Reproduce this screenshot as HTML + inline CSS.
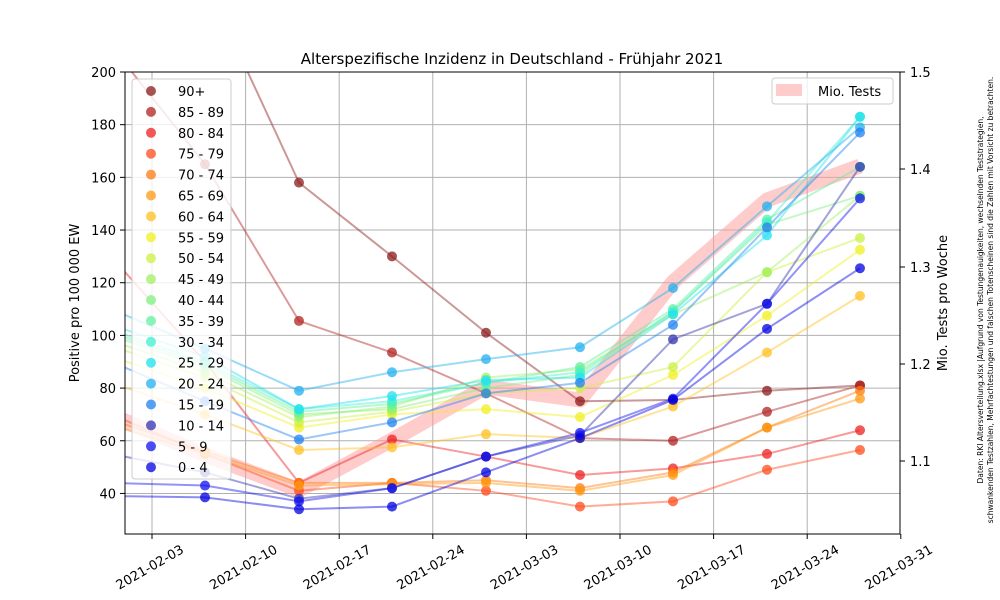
<!DOCTYPE html>
<html><head><meta charset="utf-8"><style>
html,body{margin:0;background:#fff;overflow:hidden;width:1000px;height:600px;}
svg{font-family:"DejaVu Sans","Liberation Sans",sans-serif;display:block;}
</style></head><body>
<svg id="s" width="1000" height="600" xmlns="http://www.w3.org/2000/svg">
<defs><clipPath id="c"><rect x="125" y="72" width="775" height="462"/></clipPath></defs>
<rect width="1000" height="600" fill="#fff"/>
<g id="grid" stroke="#b0b0b0" stroke-width="1"></g>
<g id="data" clip-path="url(#c)"></g>
<rect x="125" y="72" width="775" height="462" fill="none" stroke="#000" stroke-width="1"/>
<g id="ticks" font-size="13"></g>
<text x="512" y="64" font-size="15" text-anchor="middle">Alterspezifische Inzidenz in Deutschland - Frühjahr 2021</text>
<text transform="translate(79,303) rotate(-90)" font-size="13" text-anchor="middle">Positive pro 100 000 EW</text>
<text transform="translate(947,303) rotate(-90)" font-size="13" text-anchor="middle">Mio. Tests pro Woche</text>
<text transform="translate(983,300) rotate(-90)" font-size="7.5" text-anchor="middle">Daten: RKI Altersverteilung.xlsx |Aufgrund von Testungenauigkeiten, wechselnden Teststrategien,</text>
<text transform="translate(993,300) rotate(-90)" font-size="7.5" text-anchor="middle">schwankenden Testzahlen, Mehrfachtestungen und falschen Totenscheinen sind die Zahlen mit Vorsicht zu betrachten.</text>
<g id="leg"></g>
</svg>
<script>
const NS="http://www.w3.org/2000/svg";
function el(p,t,a,txt){const e=document.createElementNS(NS,t);for(const k in a)e.setAttribute(k,a[k]);if(txt!==undefined)e.textContent=txt;p.appendChild(e);return e;}
const g=document.getElementById('grid'),tk=document.getElementById('ticks'),d=document.getElementById('data'),lg=document.getElementById('leg');
const Y=v=>72+(200-v)*2.634;
for(let v=40;v<=200;v+=20){const y=Y(v);if(v<200)el(g,'line',{x1:125,x2:900,y1:y,y2:y});el(tk,'line',{x1:120,x2:125,y1:y,y2:y,stroke:'#000'});el(tk,'text',{x:116,y:y+5,'text-anchor':'end'},v);}
const dates=['2021-02-03','2021-02-10','2021-02-17','2021-02-24','2021-03-03','2021-03-10','2021-03-17','2021-03-24','2021-03-31'];
dates.forEach((s,i)=>{const x=152+i*93.6;if(i<8)el(g,'line',{x1:x,x2:x,y1:72,y2:534});el(tk,'line',{x1:x,x2:x,y1:534,y2:539,stroke:'#000'});el(tk,'text',{transform:`translate(${x},571) rotate(-30)`,'text-anchor':'middle','font-size':13},s);});
[[1.1,461],[1.2,364],[1.3,267],[1.4,169],[1.5,72]].forEach(([v,y])=>{el(tk,'line',{x1:900,x2:905,y1:y,y2:y,stroke:'#000'});el(tk,'text',{x:910,y:y+5},v.toFixed(1));});
el(d,'polyline',{points:'111,415 205,455 299,490 392,440 486,387 580,400 673,282 767,200 860,166',fill:'none',stroke:'#ff9999','stroke-opacity':0.5,'stroke-width':15,'stroke-linejoin':'round'});
const X=[111,205,299,392,486,580,673,767,860];
const S=[
['90+','#8b1a1a',[310,235,158,130,101,75,75.5,79,81]],
['85 - 89','#b22222',[210,165,105.5,93.5,78,61,60,71,81]],
['80 - 84','#ee2020',[130,90,44,60.5,54,47,49.5,55,64]],
['75 - 79','#ff4a1a',[70,55,41,44,41,35,37,49,56.5]],
['70 - 74','#ff7a10',[68,56,44,44,45,42,48,65,79]],
['65 - 69','#ff9a10',[66,55,43,43.5,44,41,47,65,76]],
['60 - 64','#ffc020',[82,70,56.5,57.5,62.5,61,73,93.5,115]],
['55 - 59','#f0f020',[92,80,65,70,72,69,85,107.5,132.5]],
['50 - 54','#ccf040',[96,84,67,71,78,80,88,124,137]],
['45 - 49','#a0f060',[98,86,69,73,84,87,108,124,153]],
['40 - 44','#80f080',[100,88,70,72,80,85,109,142,153]],
['35 - 39','#60f0a0',[101,89,71,74,82,88,110,144,164]],
['30 - 34','#40f0d0',[102,90,72,75,82,86,109,143,183]],
['25 - 29','#20e0f0',[104,92,72,77,83,84,108,138,183]],
['20 - 24','#20b0f0',[110,95,79,86,91,95.5,118,149,179]],
['15 - 19','#2080f0',[90,75,60.5,67,78,82,104,141,177]],
['10 - 14','#3030b0',[55,48,38,42,54,62,98.5,112,164]],
['5 - 9','#1010f0',[44,43,37,42,54,63,76,112,152]],
['0 - 4','#0000e0',[39,38.5,34,35,48,61,75.5,102.5,125.5]]
];
S.forEach(([n,c,v])=>{el(d,'polyline',{points:v.map((a,i)=>X[i]+','+Y(a)).join(' '),fill:'none',stroke:c,'stroke-opacity':0.45,'stroke-width':2});});
S.forEach(([n,c,v])=>{v.forEach((a,i)=>{if(i>0)el(d,'circle',{cx:X[i],cy:Y(a),r:5,fill:c,'fill-opacity':0.75});});});
el(lg,'rect',{x:132,y:79,width:99,height:400,rx:3,fill:'#fff','fill-opacity':0.8,stroke:'#ccc'});
S.forEach(([n,c],i)=>{const y=91+i*20.9;el(lg,'circle',{cx:151,cy:y,r:5,fill:c,'fill-opacity':0.75});el(lg,'text',{x:178,y:y+5,'font-size':13},n);});
el(lg,'rect',{x:772,y:78,width:121,height:26,rx:3,fill:'#fff','fill-opacity':0.8,stroke:'#ccc'});
el(lg,'rect',{x:776,y:84,width:26,height:12,fill:'#ff9999','fill-opacity':0.5});
el(lg,'text',{x:818,y:96,'font-size':13},'Mio. Tests');
</script>
</body></html>
